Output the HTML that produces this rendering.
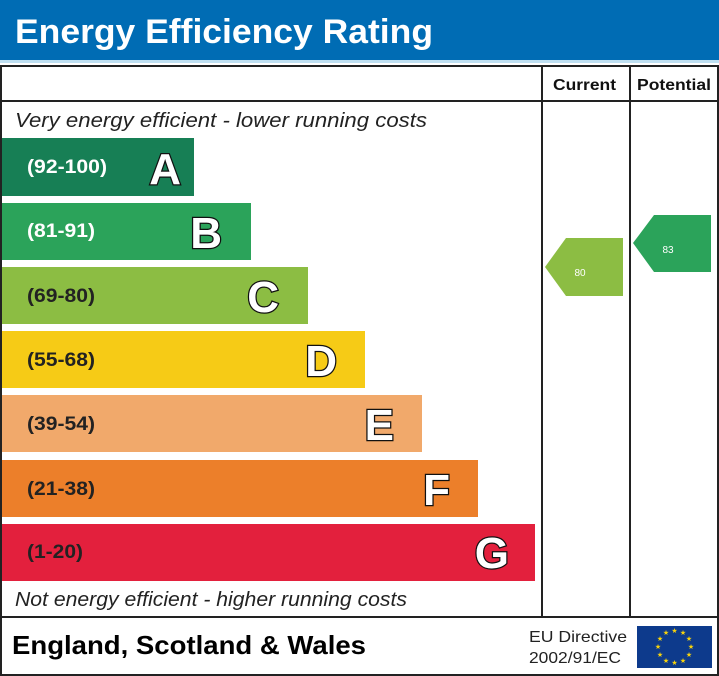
<!DOCTYPE html>
<html><head><meta charset="utf-8"><style>
html,body{margin:0;padding:0;background:#fff;}
svg{display:block;}
.L{font-size:44px;font-weight:bold;fill:#fff;stroke:#111;stroke-width:2.5px;paint-order:stroke fill;text-anchor:end;}
.R{font-size:19px;font-weight:bold;}
</style></head><body>
<svg width="719" height="676" xmlns="http://www.w3.org/2000/svg" font-family="Liberation Sans, Arial, sans-serif">
<rect x="0" y="0" width="719" height="60" fill="#006cb4"/>
<rect x="0" y="60" width="719" height="3" fill="#bfe0f2"/>
<text x="15" y="43" font-size="34" font-weight="bold" fill="#fff" textLength="418" lengthAdjust="spacingAndGlyphs">Energy Efficiency Rating</text>
<rect x="1" y="66" width="717" height="609" fill="none" stroke="#222" stroke-width="2"/>
<line x1="1" y1="101" x2="718" y2="101" stroke="#222" stroke-width="2"/>
<line x1="542" y1="66" x2="542" y2="617" stroke="#222" stroke-width="2"/>
<line x1="630" y1="66" x2="630" y2="617" stroke="#222" stroke-width="2"/>
<line x1="1" y1="617" x2="718" y2="617" stroke="#222" stroke-width="2"/>
<text x="553" y="90" font-size="16" font-weight="bold" fill="#111" textLength="63" lengthAdjust="spacingAndGlyphs">Current</text>
<text x="637" y="90" font-size="16" font-weight="bold" fill="#111" textLength="74" lengthAdjust="spacingAndGlyphs">Potential</text>
<text x="15" y="127" font-size="20" font-style="italic" fill="#222" textLength="412" lengthAdjust="spacingAndGlyphs">Very energy efficient - lower running costs</text>
<text x="15" y="606" font-size="20" font-style="italic" fill="#222" textLength="392" lengthAdjust="spacingAndGlyphs">Not energy efficient - higher running costs</text>
<rect x="2" y="138" width="192" height="58" fill="#177f55"/>
<text class="R" x="27" y="173" fill="#fff" textLength="80" lengthAdjust="spacingAndGlyphs">(92-100)</text>
<text class="L" x="181" y="184">A</text>
<rect x="2" y="203" width="249" height="57" fill="#2ba35a"/>
<text class="R" x="27" y="237" fill="#fff" textLength="68" lengthAdjust="spacingAndGlyphs">(81-91)</text>
<text class="L" x="222" y="248">B</text>
<rect x="2" y="267" width="306" height="57" fill="#8cbd43"/>
<text class="R" x="27" y="302" fill="#222" textLength="68" lengthAdjust="spacingAndGlyphs">(69-80)</text>
<text class="L" x="279" y="312">C</text>
<rect x="2" y="331" width="363" height="57" fill="#f6cb16"/>
<text class="R" x="27" y="366" fill="#222" textLength="68" lengthAdjust="spacingAndGlyphs">(55-68)</text>
<text class="L" x="337" y="376">D</text>
<rect x="2" y="395" width="420" height="57" fill="#f1a96b"/>
<text class="R" x="27" y="430" fill="#222" textLength="68" lengthAdjust="spacingAndGlyphs">(39-54)</text>
<text class="L" x="394" y="440">E</text>
<rect x="2" y="460" width="476" height="57" fill="#ec7f2a"/>
<text class="R" x="27" y="495" fill="#222" textLength="68" lengthAdjust="spacingAndGlyphs">(21-38)</text>
<text class="L" x="450" y="505">F</text>
<rect x="2" y="524" width="533" height="57" fill="#e3203d"/>
<text class="R" x="27" y="558" fill="#222" textLength="56" lengthAdjust="spacingAndGlyphs">(1-20)</text>
<text class="L" x="509" y="568">G</text>
<polygon points="545,267 566,238 623,238 623,296 566,296" fill="#8cbd43"/>
<text x="580" y="276" font-size="10" fill="#fff" text-anchor="middle">80</text>
<polygon points="633,243 654,215 711,215 711,272 654,272" fill="#2ba35a"/>
<text x="668" y="253" font-size="10" fill="#fff" text-anchor="middle">83</text>
<text x="12" y="654" font-size="26" font-weight="bold" fill="#000" textLength="354" lengthAdjust="spacingAndGlyphs">England, Scotland &amp; Wales</text>
<text x="529" y="642" font-size="16" fill="#222" textLength="98" lengthAdjust="spacingAndGlyphs">EU Directive</text>
<text x="529" y="663" font-size="16" fill="#222" textLength="92" lengthAdjust="spacingAndGlyphs">2002/91/EC</text>
<rect x="637" y="626" width="75" height="42" fill="#0d3a8c"/>
<g fill="#f6d20c" font-size="7" text-anchor="middle">
<text x="674.5" y="633">★</text><text x="683" y="635">★</text><text x="689" y="641">★</text><text x="691" y="649">★</text><text x="689" y="657">★</text><text x="683" y="663">★</text><text x="674.5" y="665">★</text><text x="666" y="663">★</text><text x="660" y="657">★</text><text x="658" y="649">★</text><text x="660" y="641">★</text><text x="666" y="635">★</text>
</g>
</svg>
</body></html>
